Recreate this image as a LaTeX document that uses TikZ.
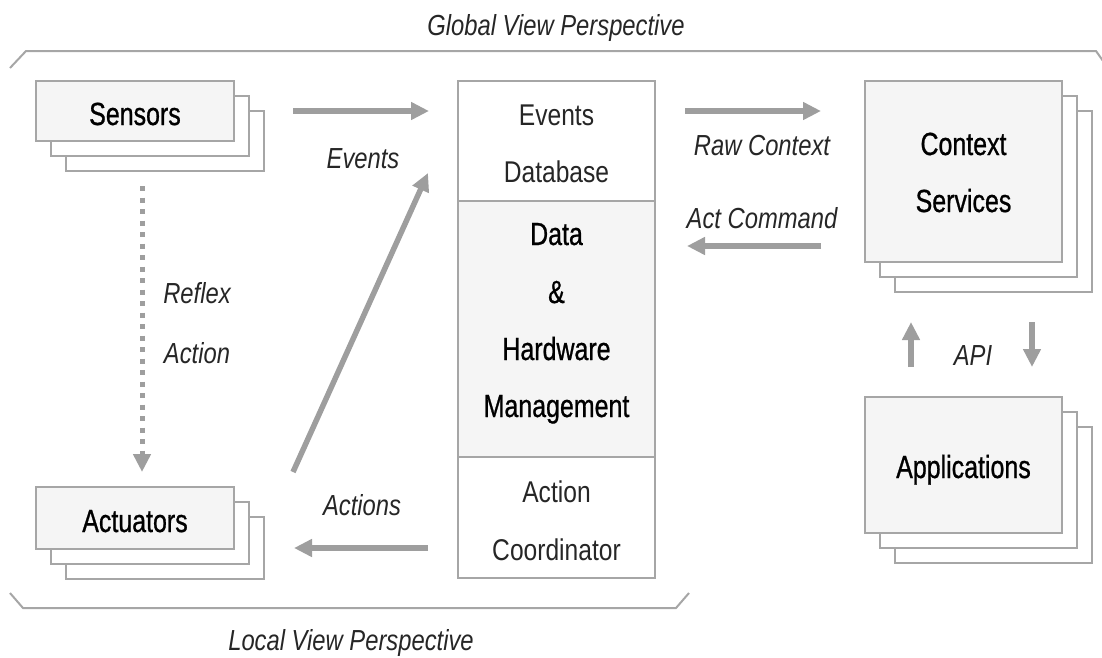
\documentclass[tikz,border=0pt]{standalone}
\usepackage{fontspec}
\setmainfont{Liberation Sans}[FakeStretch=0.82]
\newfontfamily\boxfont{Liberation Sans}[FakeStretch=0.78,FakeBold=0.8]
\usetikzlibrary{arrows.meta}
\definecolor{edgegray}{HTML}{A6A6A6}
\definecolor{arrowgray}{HTML}{9E9E9E}
\definecolor{boxfill}{HTML}{F5F5F5}
\definecolor{txt}{HTML}{262626}
\tikzset{
  backbox/.style={draw=edgegray, line width=1.6pt, fill=white},
  frontbox/.style={draw=edgegray, line width=1.6pt, fill=boxfill},
  lbl/.style={inner sep=0pt, anchor=base, font=\fontsize{29}{31}\selectfont\itshape, text=txt},
  plain/.style={inner sep=0pt, anchor=base, font=\fontsize{30}{32}\selectfont, text=txt},
  boxlbl/.style={inner sep=0pt, anchor=base, font=\boxfont\fontsize{32}{34}\selectfont, text=black},
  flow/.style={draw=arrowgray, line width=5.5pt, -{Triangle[length=18pt,width=17pt]}},
  reflex/.style={draw=arrowgray, line width=5pt, dash pattern=on 5pt off 6.5pt, -{Triangle[length=18pt,width=17pt]}},
  bracket/.style={draw=edgegray, line width=2pt},
}
\newcommand\stackedbox[5]{%
  \draw[backbox] ({#2+30},{#3+30}) rectangle ({#4+30},{#5+30});
  \draw[backbox] ({#2+15},{#3+15}) rectangle ({#4+15},{#5+15});
  \draw[frontbox] (#2,#3) rectangle (#4,#5);
  \coordinate (#1) at ({(#2+#4)/2},{(#3+#5)/2});
}
\begin{document}
\begin{tikzpicture}[x=1pt,y=-1pt]
\useasboundingbox (0,0) rectangle (1102,657);

% perspective brackets
\draw[bracket] (10,68) -- (26,51) -- (1096,51) -- (1108,68);
\draw[bracket] (10,593) -- (23,608) -- (676,608) -- (689,593);
\node[lbl] (globalT) at (556,35) {Global View Perspective};
\node[lbl] (localT) at (351,650) {Local View Perspective};

% stacked boxes
\stackedbox{sensors}{36}{81}{234}{141}
\stackedbox{actuators}{36}{487}{234}{549}
\stackedbox{context}{865}{81}{1062}{262}
\stackedbox{apps}{865}{397}{1062}{533}

\node[boxlbl] (sensorsT) at (135,125) {Sensors};
\node[boxlbl] (actuatorsT) at (135,532) {Actuators};
\node[boxlbl] (contextT1) at (963.5,155) {Context};
\node[boxlbl] (contextT2) at (963.5,212) {Services};
\node[boxlbl] (appsT) at (963.5,478) {Applications};

% central column
\draw[backbox] (458,81) rectangle (655,201);
\draw[frontbox] (458,201) rectangle (655,457);
\draw[backbox] (458,457) rectangle (655,578);
\node[plain] (edb1) at (556.5,125) {Events};
\node[plain] (edb2) at (556.5,182) {Database};
\node[boxlbl] (dhm1) at (556.5,245) {Data};
\node[boxlbl] (dhm2) at (556.5,303) {\&};
\node[boxlbl] (dhm3) at (556.5,360) {Hardware};
\node[boxlbl] (dhm4) at (556.5,417) {Management};
\node[plain] (ac1) at (556.5,502) {Action};
\node[plain] (ac2) at (556.5,560) {Coordinator};

% arrow end points
\coordinate (evS) at (293,111);  \coordinate (evE) at (429,111);
\coordinate (rcS) at (685,111);  \coordinate (rcE) at (821,111);
\coordinate (acS) at (821,246);  \coordinate (acE) at (687,246);
\coordinate (atS) at (428,548);  \coordinate (atE) at (294,548);
\coordinate (dgS) at (293,472);  \coordinate (dgE) at (428,173);
\coordinate (apU1) at (911,367); \coordinate (apU2) at (911,322);
\coordinate (apD1) at (1032,322); \coordinate (apD2) at (1032,367);
\coordinate (rfS) at (142,186);  \coordinate (rfE) at (142,472);

\draw[flow] (evS) -- (evE);
\draw[flow] (rcS) -- (rcE);
\draw[flow] (acS) -- (acE);
\draw[flow] (atS) -- (atE);
\draw[flow] (dgS) -- (dgE);
\draw[flow] (apU1) -- (apU2);
\draw[flow] (apD1) -- (apD2);
\draw[reflex] (rfS) -- (rfE);

% arrow labels
\node[lbl] (evL) at (363,168) {Events};
\node[lbl] (rcL) at (762,155) {Raw Context};
\node[lbl] (acL) at (762,228) {Act Command};
\node[lbl] (rfL1) at (197,303) {Reflex};
\node[lbl] (rfL2) at (197,363) {Action};
\node[lbl] (apiL) at (973,365) {API};
\node[lbl] (atL) at (362,515) {Actions};
\end{tikzpicture}
\end{document}
